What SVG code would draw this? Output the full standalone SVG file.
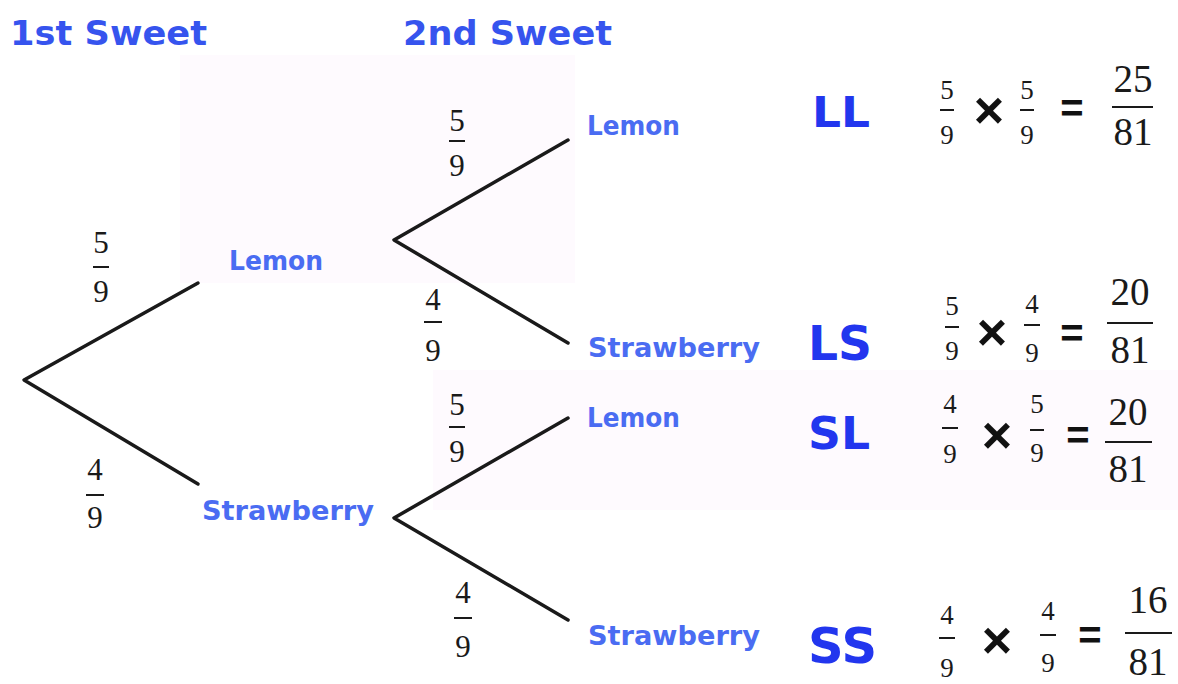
<svg xmlns="http://www.w3.org/2000/svg" width="1178" height="684" viewBox="0 0 1178 684">
  <style>
    .head { font-family: "DejaVu Sans", "Liberation Sans", sans-serif; font-weight: bold; font-size: 34px; fill: #3654ee; }
    .lbl { font-family: "DejaVu Sans", "Liberation Sans", sans-serif; font-weight: bold; font-size: 26px; fill: #4a6cf2; }
    .code { font-family: "DejaVu Sans", "Liberation Sans", sans-serif; font-weight: bold; fill: #2236ee; }
    .num { font-family: "Liberation Serif", "DejaVu Serif", serif; fill: #1a1a1a; text-anchor: middle; }
    .t { font-size: 31px; }
    .s { font-size: 27px; }
    .b { font-size: 39px; }
    .op { font-family: "Liberation Sans", "DejaVu Sans", sans-serif; font-weight: bold; fill: #111; text-anchor: middle; }
    .bar { stroke: #1a1a1a; stroke-width: 2; }
    .branch { stroke: #1a1a1a; stroke-width: 3.5; fill: none; stroke-linecap: round; stroke-linejoin: round; }
    .tint { fill: #fefafe; }
  </style>

  <rect width="1178" height="684" fill="#ffffff"/>
  <!-- faint tinted panels -->
  <rect class="tint" x="180" y="55" width="395" height="228"/>
  <rect class="tint" x="433" y="370" width="745" height="140"/>

  <!-- column headings -->
  <g id="heading-1st">
    <text class="head" x="10" y="45" textLength="197" lengthAdjust="spacingAndGlyphs">1st Sweet</text>
  </g>
  <g id="heading-2nd">
    <text class="head" x="403" y="45" textLength="209" lengthAdjust="spacingAndGlyphs">2nd Sweet</text>
  </g>

  <!-- branches -->
  <g id="connectors">
    <polyline class="branch" points="198,283 24,380 198,484"/>
    <polyline class="branch" points="568,140 394,240 568,343"/>
    <polyline class="branch" points="568,418 394,518 568,620"/>
  </g>

  <!-- branch probabilities -->
  <g id="p-root-lemon">
    <text class="num t" x="101" y="253">5</text>
    <line class="bar" x1="93" y1="267" x2="109" y2="267"/>
    <text class="num t" x="101" y="302">9</text>
  </g>
  <g id="p-root-straw">
    <text class="num t" x="95" y="480">4</text>
    <line class="bar" x1="86" y1="495" x2="104" y2="495"/>
    <text class="num t" x="95" y="528">9</text>
  </g>
  <g id="p-lemon-lemon">
    <text class="num t" x="457" y="131">5</text>
    <line class="bar" x1="449" y1="141" x2="465" y2="141"/>
    <text class="num t" x="457" y="176">9</text>
  </g>
  <g id="p-lemon-straw">
    <text class="num t" x="433" y="310">4</text>
    <line class="bar" x1="424" y1="322" x2="442" y2="322"/>
    <text class="num t" x="433" y="361">9</text>
  </g>
  <g id="p-straw-lemon">
    <text class="num t" x="457" y="415">5</text>
    <line class="bar" x1="449" y1="427" x2="465" y2="427"/>
    <text class="num t" x="457" y="462">9</text>
  </g>
  <g id="p-straw-straw">
    <text class="num t" x="463" y="603">4</text>
    <line class="bar" x1="454" y1="618" x2="472" y2="618"/>
    <text class="num t" x="463" y="657">9</text>
  </g>

  <!-- outcome nodes -->
  <g id="node-lemon-1">
    <text class="lbl" x="229" y="270" textLength="94" lengthAdjust="spacingAndGlyphs">Lemon</text>
  </g>
  <g id="node-straw-1">
    <text class="lbl" x="202" y="520" textLength="172" lengthAdjust="spacingAndGlyphs">Strawberry</text>
  </g>
  <g id="node-lemon-lemon">
    <text class="lbl" x="587" y="135" textLength="93" lengthAdjust="spacingAndGlyphs">Lemon</text>
  </g>
  <g id="node-lemon-straw">
    <text class="lbl" x="588" y="357" textLength="172" lengthAdjust="spacingAndGlyphs">Strawberry</text>
  </g>
  <g id="node-straw-lemon">
    <text class="lbl" x="587" y="427" textLength="93" lengthAdjust="spacingAndGlyphs">Lemon</text>
  </g>
  <g id="node-straw-straw">
    <text class="lbl" x="588" y="645" textLength="172" lengthAdjust="spacingAndGlyphs">Strawberry</text>
  </g>

  <!-- outcome codes and products -->
  <g id="row-LL">
    <text class="code" x="812" y="127" font-size="42" textLength="58" lengthAdjust="spacingAndGlyphs">LL</text>
    <text class="num s" x="947" y="99">5</text>
    <line class="bar" x1="940" y1="110" x2="954" y2="110"/>
    <text class="num s" x="947" y="144">9</text>
    <text class="op" x="989" y="128" font-size="52">×</text>
    <text class="num s" x="1027" y="99">5</text>
    <line class="bar" x1="1020" y1="110" x2="1034" y2="110"/>
    <text class="num s" x="1027" y="144">9</text>
    <text class="op" x="1072" y="122" font-size="40">=</text>
    <text class="num b" x="1133" y="92">25</text>
    <line class="bar" x1="1112" y1="107" x2="1153" y2="107" stroke-width="2.5"/>
    <text class="num b" x="1133" y="145">81</text>
  </g>
  <g id="row-LS">
    <text class="code" x="808" y="360" font-size="48" textLength="64" lengthAdjust="spacingAndGlyphs">LS</text>
    <text class="num s" x="952" y="315">5</text>
    <line class="bar" x1="945" y1="327" x2="959" y2="327"/>
    <text class="num s" x="952" y="360">9</text>
    <text class="op" x="992" y="350" font-size="52">×</text>
    <text class="num s" x="1032" y="313">4</text>
    <line class="bar" x1="1024" y1="325" x2="1040" y2="325"/>
    <text class="num s" x="1032" y="362">9</text>
    <text class="op" x="1072" y="347" font-size="40">=</text>
    <text class="num b" x="1130" y="305">20</text>
    <line class="bar" x1="1107" y1="323" x2="1153" y2="323" stroke-width="2.5"/>
    <text class="num b" x="1130" y="363">81</text>
  </g>
  <g id="row-SL">
    <text class="code" x="808" y="449" font-size="44" textLength="62" lengthAdjust="spacingAndGlyphs">SL</text>
    <text class="num s" x="950" y="413">4</text>
    <line class="bar" x1="942" y1="428" x2="958" y2="428"/>
    <text class="num s" x="950" y="463">9</text>
    <text class="op" x="997" y="453" font-size="52">×</text>
    <text class="num s" x="1037" y="413">5</text>
    <line class="bar" x1="1030" y1="430" x2="1044" y2="430"/>
    <text class="num s" x="1037" y="462">9</text>
    <text class="op" x="1078" y="449" font-size="40">=</text>
    <text class="num b" x="1128" y="425">20</text>
    <line class="bar" x1="1105" y1="442" x2="1152" y2="442" stroke-width="2.5"/>
    <text class="num b" x="1128" y="482">81</text>
  </g>
  <g id="row-SS">
    <text class="code" x="808" y="663" font-size="50" textLength="69" lengthAdjust="spacingAndGlyphs">SS</text>
    <text class="num s" x="947" y="624">4</text>
    <line class="bar" x1="939" y1="638" x2="955" y2="638"/>
    <text class="num s" x="947" y="677">9</text>
    <text class="op" x="997" y="658" font-size="52">×</text>
    <text class="num s" x="1048" y="620">4</text>
    <line class="bar" x1="1040" y1="635" x2="1056" y2="635"/>
    <text class="num s" x="1048" y="672">9</text>
    <text class="op" x="1090" y="649" font-size="40">=</text>
    <text class="num b" x="1148" y="613">16</text>
    <line class="bar" x1="1125" y1="633" x2="1172" y2="633" stroke-width="2.5"/>
    <text class="num b" x="1148" y="675">81</text>
  </g>
</svg>
